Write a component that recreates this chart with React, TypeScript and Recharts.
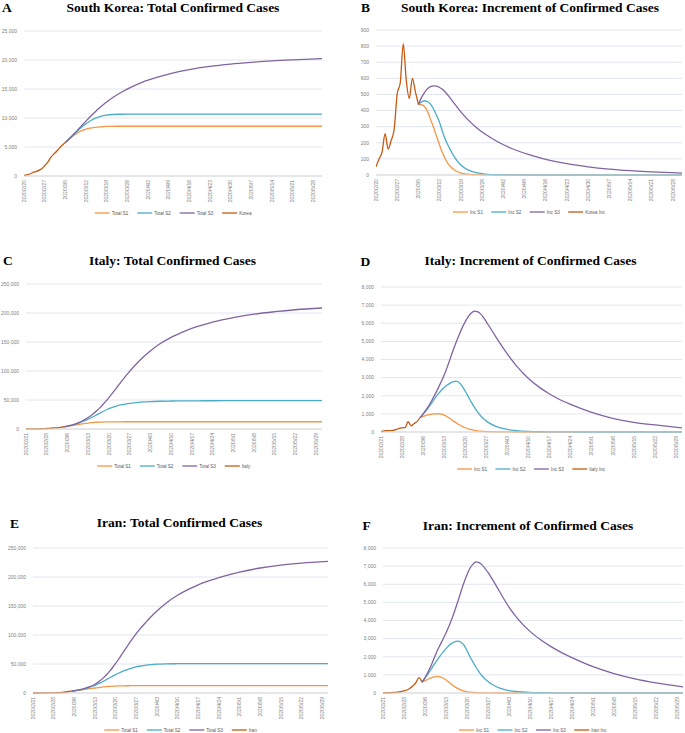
import React from 'react';
import { LineChart, Line, XAxis, YAxis, CartesianGrid, Legend } from 'recharts';

// ---------- colours ----------
const C_S1 = '#F79646';
const C_S2 = '#4BACC6';
const C_S3 = '#8064A2';
const C_ACT = '#C55A11';

// ---------- tick labels ----------
const tickDays = [0, 7, 14, 21, 28, 35, 42, 49, 56, 63, 70, 77, 84, 91, 98];
const krDateLabels = ['2020/2/20', '2020/2/27', '2020/3/5', '2020/3/12', '2020/3/19', '2020/3/26', '2020/4/2', '2020/4/9', '2020/4/16', '2020/4/23', '2020/4/30', '2020/5/7', '2020/5/14', '2020/5/21', '2020/5/28'];
const euDateLabels = ['2020/2/21', '2020/2/28', '2020/3/6', '2020/3/13', '2020/3/20', '2020/3/27', '2020/4/3', '2020/4/10', '2020/4/17', '2020/4/24', '2020/5/1', '2020/5/8', '2020/5/15', '2020/5/22', '2020/5/29'];

// ---------- South Korea ----------
const krDays = [0, 1, 2, 3, 4, 5, 6, 7, 8, 9, 10, 11, 12, 13, 14];
const krTotal = [104, 204, 346, 602, 763, 977, 1261, 1766, 2337, 3150, 3736, 4212, 4812, 5328, 5766];
const krInc = [51, 100, 142, 256, 161, 214, 284, 505, 571, 813, 586, 476, 600, 516, 438];
const krModelDays = [14, 15, 16, 17, 18, 19, 20, 21, 22, 23, 24, 26, 28, 30, 33, 36, 40, 45, 50, 56, 63, 70, 77, 84, 91, 101];
const krTotS1 = [5766, 6200, 6640, 7050, 7400, 7680, 7900, 8060, 8200, 8300, 8380, 8480, 8540, 8570, 8580, 8580, 8580, 8580, 8580, 8580, 8580, 8580, 8580, 8580, 8580, 8580];
const krTotS2 = [5766, 6250, 6730, 7250, 7740, 8200, 8620, 9000, 9350, 9660, 9920, 10300, 10500, 10600, 10650, 10670, 10680, 10680, 10680, 10680, 10680, 10680, 10680, 10680, 10680, 10680];
const krTotS3 = [5766, 6250, 6760, 7290, 7830, 8380, 8930, 9470, 10000, 10510, 11000, 11930, 12760, 13500, 14450, 15250, 16150, 17000, 17700, 18350, 18900, 19300, 19600, 19850, 20030, 20220];
const krIncS1 = [438, 436, 425, 395, 345, 295, 240, 185, 135, 95, 65, 30, 12, 5, 2, 1, 0, 0, 0, 0, 0, 0, 0, 0, 0, 0];
const krIncS2 = [438, 452, 461, 455, 440, 410, 370, 325, 265, 215, 175, 108, 62, 35, 14, 6, 2, 1, 0, 0, 0, 0, 0, 0, 0, 0];
const krIncS3 = [438, 480, 512, 535, 548, 553, 551, 543, 530, 512, 490, 440, 392, 350, 297, 254, 208, 163, 129, 97, 70, 51, 37, 27, 19, 12];

// ---------- Italy ----------
const itDays = [0, 1, 2, 3, 4, 5, 6, 7, 8, 9, 10, 11, 12, 13];
const itTotal = [20, 79, 150, 229, 322, 453, 655, 888, 1128, 1694, 2036, 2502, 3089, 3858];
const itInc = [17, 59, 71, 79, 93, 131, 202, 233, 240, 566, 342, 466, 587, 800];
const euModelDays = [13, 14, 15, 16, 17, 18, 19, 20, 21, 22, 23, 24, 25, 26, 27, 28, 29, 30, 31, 32, 33, 34, 35, 36, 38, 40, 42, 45, 49, 53, 56, 60, 63, 70, 77, 84, 91, 100];
const itTotS1 = [3858, 4700, 5550, 6400, 7250, 8100, 8900, 9650, 10300, 10850, 11300, 11650, 11900, 12080, 12200, 12290, 12350, 12400, 12430, 12450, 12470, 12480, 12490, 12500, 12500, 12500, 12500, 12500, 12500, 12500, 12500, 12500, 12500, 12500, 12500, 12500, 12500, 12500];
const itTotS2 = [3858, 4840, 6000, 7350, 8900, 10650, 12600, 14700, 16950, 19400, 22000, 24700, 27450, 30150, 32700, 35000, 37000, 38700, 40150, 41400, 42450, 43350, 44100, 44750, 45850, 46650, 47250, 47850, 48250, 48500, 48600, 48700, 48750, 48800, 48800, 48800, 48800, 48800];
const itTotS3 = [3858, 4858, 6090, 7580, 9360, 11450, 13870, 16640, 19790, 23370, 27420, 31940, 36900, 42280, 48040, 54130, 60490, 67050, 73720, 80360, 86890, 93220, 99300, 105100, 116000, 125800, 134500, 146000, 158000, 167300, 173600, 179800, 184200, 192200, 198000, 202200, 205600, 208600];
const itIncS1 = [800, 860, 915, 960, 990, 1005, 1008, 985, 930, 845, 730, 615, 505, 400, 310, 235, 175, 128, 92, 66, 47, 33, 23, 16, 8, 4, 2, 1, 0, 0, 0, 0, 0, 0, 0, 0, 0, 0];
const itIncS2 = [800, 980, 1180, 1400, 1640, 1880, 2100, 2290, 2450, 2590, 2700, 2780, 2810, 2720, 2520, 2250, 1950, 1650, 1370, 1120, 910, 740, 600, 490, 320, 210, 140, 75, 32, 14, 8, 4, 2, 1, 0, 0, 0, 0];
const itIncS3 = [800, 1000, 1230, 1490, 1780, 2090, 2420, 2770, 3150, 3580, 4050, 4520, 4960, 5380, 5760, 6090, 6360, 6560, 6670, 6640, 6530, 6330, 6080, 5820, 5290, 4780, 4300, 3650, 2950, 2420, 2100, 1740, 1520, 1080, 750, 530, 390, 230];

// ---------- Iran ----------
const irDays = [0, 1, 2, 3, 4, 5, 6, 7, 8, 9, 10, 11, 12, 13];
const irTotal = [18, 28, 43, 61, 95, 139, 214, 329, 494, 754, 1154, 1734, 2579, 3179];
const irInc = [13, 10, 15, 18, 34, 44, 75, 115, 165, 260, 400, 580, 845, 600];
const irTotS1 = [3179, 3800, 4450, 5150, 5900, 6650, 7400, 8050, 8650, 9250, 9850, 10400, 10900, 11350, 11700, 12000, 12200, 12350, 12450, 12500, 12550, 12580, 12600, 12600, 12600, 12600, 12600, 12600, 12600, 12600, 12600, 12600, 12600, 12600, 12600, 12600, 12600, 12600];
const irTotS2 = [3179, 3850, 4650, 5600, 6700, 7950, 9450, 11200, 13200, 15500, 18000, 20700, 23500, 26300, 29000, 31600, 34000, 36300, 38400, 40300, 42000, 43600, 45000, 46100, 47800, 49000, 49800, 50300, 50500, 50600, 50600, 50600, 50600, 50600, 50600, 50600, 50600, 50600];
const irTotS3 = [3179, 3900, 4800, 5900, 7200, 8700, 10450, 12500, 15000, 18300, 22300, 26900, 32000, 37700, 44000, 50900, 58200, 65800, 73400, 81000, 88400, 95500, 102400, 108800, 120500, 131500, 141500, 154500, 168500, 179500, 186500, 194000, 199000, 208500, 215500, 220500, 224000, 227000];
const irIncS1 = [600, 680, 760, 830, 885, 915, 895, 830, 720, 590, 460, 340, 240, 160, 105, 68, 44, 28, 18, 12, 8, 5, 3, 2, 1, 0, 0, 0, 0, 0, 0, 0, 0, 0, 0, 0, 0, 0];
const irIncS2 = [600, 820, 1050, 1300, 1560, 1800, 2030, 2250, 2450, 2620, 2750, 2840, 2860, 2800, 2640, 2330, 2000, 1700, 1420, 1170, 950, 770, 640, 510, 330, 210, 135, 70, 30, 13, 7, 3, 2, 1, 0, 0, 0, 0];
const irIncS3 = [600, 850, 1150, 1500, 1900, 2300, 2640, 2970, 3310, 3690, 4110, 4580, 5080, 5600, 6100, 6530, 6880, 7110, 7230, 7190, 7070, 6880, 6650, 6390, 5840, 5270, 4740, 4080, 3400, 2880, 2560, 2190, 1950, 1450, 1070, 780, 560, 340];

// ---------- helpers ----------
type Series = { name: string; days: number[]; values: number[]; color: string };
type Rect = { left: number; right: number; top: number; bottom: number };
type PanelCfg = {
  letter: string; letterX: number; letterBase: number;
  title: string; titleCX: number; titleBase: number;
  plot: Rect; yMax: number; yStep: number; xMax: number; labels: string[];
  series: Series[];
};

const rows = (days: number[], vals: number[]) => days.map((d, i) => ({ d, v: vals[i] }));
const fmt = (v: number) => v.toLocaleString('en-US');
const cw = (c: string) => (c === ' ' ? 0.278 : /[il.,:;!']/.test(c) ? 0.222 : /[ftrjI]/.test(c) ? 0.3 : /[mwMW]/.test(c) ? 0.85 : /[A-Z]/.test(c) ? 0.667 : 0.556);
const textW = (s: string, fs: number) => s.split('').reduce((a, c) => a + cw(c), 0) * fs;

const TITLE_FS = 13.5;
const SERIF = "'Liberation Serif', 'Times New Roman', serif";
const SANS = "'Liberation Sans', Arial, sans-serif";

function XTick(props: any) {
  const { x, y, payload, labels } = props;
  const idx = Math.round(payload.value / 7);
  return (
    <text transform={`translate(${x},${y}) rotate(-90)`} textAnchor="end" dy="0.35em" fontSize={5} fill="#7F7F7F" fontFamily={SANS}>
      {labels[idx]}
    </text>
  );
}

function LegendBox({ series, width }: { series: Series[]; width: number }) {
  const fs = 4.6;
  const LINE = 15;
  const items = series.map((s) => ({ s, w: LINE + 2 + textW(s.name, fs) + 8 }));
  const total = items.reduce((a, it) => a + it.w, 0) - 8;
  let x = (width - total) / 2;
  return (
    <svg width={width} height={10} style={{ display: 'block' }}>
      {items.map((it) => {
        const x0 = x;
        x += it.w;
        return (
          <g key={it.s.name}>
            <line x1={x0} x2={x0 + LINE} y1={5} y2={5} stroke={it.s.color} strokeWidth={1.3} />
            <text x={x0 + LINE + 2} y={5} dy="0.35em" fontSize={fs} fill="#595959" fontFamily={SANS}>{it.s.name}</text>
          </g>
        );
      })}
    </svg>
  );
}

function Panel(cfg: PanelCfg) {
  const YW = 30, MT = 6, MR = 2, XH = 34, LEG = 14;
  const { plot } = cfg;
  const plotW = plot.right - plot.left;
  const plotH = plot.bottom - plot.top;
  const width = YW + plotW + MR;
  const height = MT + plotH + XH + LEG;
  const yTicks: number[] = [];
  for (let v = 0; v <= cfg.yMax; v += cfg.yStep) yTicks.push(v);
  return (
    <>
      <div style={{ position: 'absolute', left: cfg.letterX, top: cfg.letterBase - 0.8375 * TITLE_FS, fontSize: TITLE_FS, lineHeight: `${TITLE_FS}px`, fontFamily: SERIF, fontWeight: 'bold', color: '#000' }}>{cfg.letter}</div>
      <div style={{ position: 'absolute', left: cfg.titleCX - 200, width: 400, textAlign: 'center', top: cfg.titleBase - 0.8375 * TITLE_FS, fontSize: TITLE_FS, lineHeight: `${TITLE_FS}px`, fontFamily: SERIF, fontWeight: 'bold', color: '#000', whiteSpace: 'nowrap' }}>{cfg.title}</div>
      <div style={{ position: 'absolute', left: plot.left - YW, top: plot.top - MT }}>
        <LineChart width={width} height={height} margin={{ top: MT, right: MR, left: 0, bottom: LEG }}>
          <CartesianGrid vertical={false} stroke="#E1E6EE" strokeWidth={1} />
          <XAxis dataKey="d" type="number" domain={[0, cfg.xMax]} allowDataOverflow ticks={tickDays} interval={0} height={XH}
            tickLine={false} tickSize={0} tickMargin={4} axisLine={{ stroke: '#D9D9D9' }}
            tick={(p: any) => <XTick {...p} labels={cfg.labels} />} />
          <YAxis type="number" domain={[0, cfg.yMax]} ticks={yTicks} interval={0} width={YW} tickLine={false} axisLine={false}
            tickSize={0} tickMargin={7} tickFormatter={fmt} tick={{ fontSize: 5, fill: '#7F7F7F', fontFamily: SANS }} />
          {cfg.series.map((s) => (
            <Line key={s.name} name={s.name} data={rows(s.days, s.values)} dataKey="v" type="monotone" stroke={s.color}
              strokeWidth={1.3} dot={false} activeDot={false} isAnimationActive={false} />
          ))}
          <Legend verticalAlign="middle" align="center" layout="horizontal"
            wrapperStyle={{ top: MT + plotH + 32, left: YW, width: plotW, height: 10 }}
            content={() => <LegendBox series={cfg.series} width={plotW} />} />
        </LineChart>
      </div>
    </>
  );
}

const panels: PanelCfg[] = [
  {
    letter: 'A', letterX: 2, letterBase: 12, title: 'South Korea: Total Confirmed Cases', titleCX: 173, titleBase: 12,
    plot: { left: 24, right: 322, top: 31, bottom: 176 }, yMax: 25000, yStep: 5000, xMax: 101, labels: krDateLabels,
    series: [
      { name: 'Total S1', days: krModelDays, values: krTotS1, color: C_S1 },
      { name: 'Total S2', days: krModelDays, values: krTotS2, color: C_S2 },
      { name: 'Total S3', days: krModelDays, values: krTotS3, color: C_S3 },
      { name: 'Korea', days: krDays, values: krTotal, color: C_ACT },
    ],
  },
  {
    letter: 'B', letterX: 361, letterBase: 12.2, title: 'South Korea: Increment of Confirmed Cases', titleCX: 530, titleBase: 12.5,
    plot: { left: 376, right: 682, top: 30, bottom: 175 }, yMax: 900, yStep: 100, xMax: 101, labels: krDateLabels,
    series: [
      { name: 'Inc S1', days: krModelDays, values: krIncS1, color: C_S1 },
      { name: 'Inc S2', days: krModelDays, values: krIncS2, color: C_S2 },
      { name: 'Inc S3', days: krModelDays, values: krIncS3, color: C_S3 },
      { name: 'Korea Inc', days: krDays, values: krInc, color: C_ACT },
    ],
  },
  {
    letter: 'C', letterX: 3, letterBase: 265, title: 'Italy: Total Confirmed Cases', titleCX: 172.5, titleBase: 265.7,
    plot: { left: 26, right: 322, top: 284, bottom: 429 }, yMax: 250000, yStep: 50000, xMax: 100, labels: euDateLabels,
    series: [
      { name: 'Total S1', days: euModelDays, values: itTotS1, color: C_S1 },
      { name: 'Total S2', days: euModelDays, values: itTotS2, color: C_S2 },
      { name: 'Total S3', days: euModelDays, values: itTotS3, color: C_S3 },
      { name: 'Italy', days: itDays, values: itTotal, color: C_ACT },
    ],
  },
  {
    letter: 'D', letterX: 360.5, letterBase: 266, title: 'Italy: Increment of Confirmed Cases', titleCX: 530.5, titleBase: 265.7,
    plot: { left: 381, right: 682, top: 287, bottom: 432 }, yMax: 8000, yStep: 1000, xMax: 100, labels: euDateLabels,
    series: [
      { name: 'Inc S1', days: euModelDays, values: itIncS1, color: C_S1 },
      { name: 'Inc S2', days: euModelDays, values: itIncS2, color: C_S2 },
      { name: 'Inc S3', days: euModelDays, values: itIncS3, color: C_S3 },
      { name: 'Italy Inc', days: itDays, values: itInc, color: C_ACT },
    ],
  },
  {
    letter: 'E', letterX: 10, letterBase: 528.3, title: 'Iran: Total Confirmed Cases', titleCX: 179.5, titleBase: 527.7,
    plot: { left: 33, right: 328, top: 548, bottom: 693 }, yMax: 250000, yStep: 50000, xMax: 100, labels: euDateLabels,
    series: [
      { name: 'Total S1', days: euModelDays, values: irTotS1, color: C_S1 },
      { name: 'Total S2', days: euModelDays, values: irTotS2, color: C_S2 },
      { name: 'Total S3', days: euModelDays, values: irTotS3, color: C_S3 },
      { name: 'Iran', days: irDays, values: irTotal, color: C_ACT },
    ],
  },
  {
    letter: 'F', letterX: 362.5, letterBase: 530, title: 'Iran: Increment of Confirmed Cases', titleCX: 528, titleBase: 530,
    plot: { left: 383, right: 683, top: 548, bottom: 693 }, yMax: 8000, yStep: 1000, xMax: 100, labels: euDateLabels,
    series: [
      { name: 'Inc S1', days: euModelDays, values: irIncS1, color: C_S1 },
      { name: 'Inc S2', days: euModelDays, values: irIncS2, color: C_S2 },
      { name: 'Inc S3', days: euModelDays, values: irIncS3, color: C_S3 },
      { name: 'Iran Inc', days: irDays, values: irInc, color: C_ACT },
    ],
  },
];

export default function App() {
  return (
    <div style={{ position: 'absolute', left: 0, top: 0, width: 685, height: 733, overflow: 'hidden', background: '#fff' }}>
      {panels.map((p) => (
        <Panel key={p.letter} {...p} />
      ))}
    </div>
  );
}
